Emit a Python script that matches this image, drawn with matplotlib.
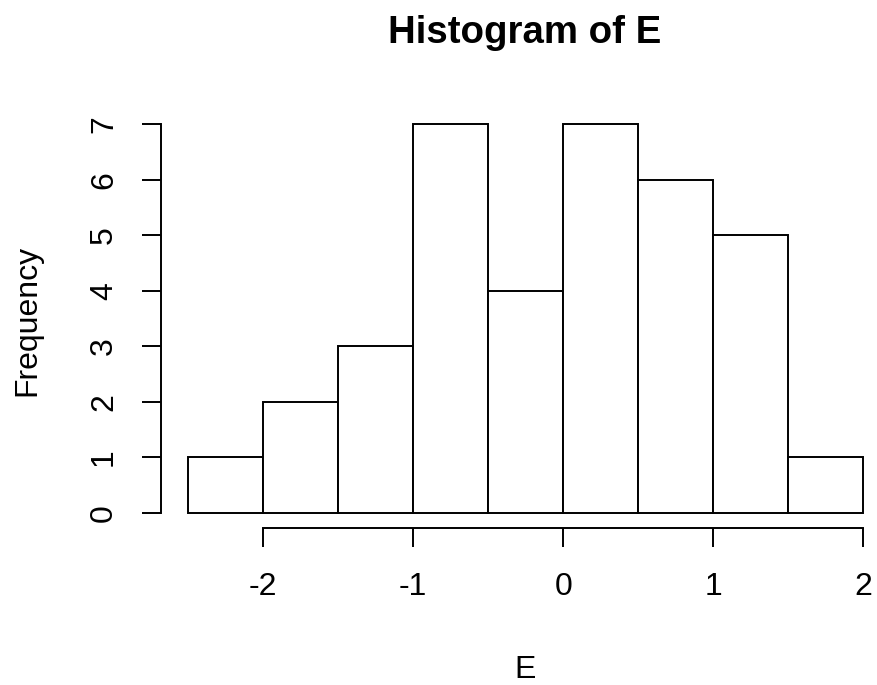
import matplotlib.pyplot as plt

# histogram bins (left edges) and counts
bin_left = [-2.5, -2.0, -1.5, -1.0, -0.5, 0.0, 0.5, 1.0, 1.5]
counts = [1, 2, 3, 7, 4, 7, 6, 5, 1]
bin_width = 0.5
x_ticks = [-2, -1, 0, 1, 2]
y_ticks = [0, 1, 2, 3, 4, 5, 6, 7]

plt.rcParams['font.family'] = ['Liberation Sans', 'DejaVu Sans']

W, H = 878, 685
fig = plt.figure(figsize=(W / 100, H / 100), dpi=100)

# plot region in pixels (R style, 4% padding around the data range)
left_px, right_px = 161.3, 890.3
top_px, bottom_px = 108.8, 528.2
ax = fig.add_axes([left_px / W, 1 - bottom_px / H,
                   (right_px - left_px) / W, (bottom_px - top_px) / H])

ax.bar(bin_left, counts, width=bin_width, align='edge',
       facecolor='white', edgecolor='black', linewidth=1.4)

ax.set_xlim(-2.68, 2.18)
ax.set_ylim(-0.28, 7.28)

for s in ['top', 'right']:
    ax.spines[s].set_visible(False)
ax.spines['left'].set_bounds(0, 7)
ax.spines['bottom'].set_bounds(-2, 2)
for s in ['left', 'bottom']:
    ax.spines[s].set_linewidth(1.4)

ax.set_xticks(x_ticks)
ax.set_xticklabels([str(v) for v in x_ticks])
ax.set_yticks(y_ticks)
ax.set_yticklabels([str(v) for v in y_ticks], rotation=90, va='center')
ax.tick_params(axis='both', direction='out', length=13.5, width=1.4,
               labelsize=23, colors='black')
ax.tick_params(axis='x', pad=18)
ax.tick_params(axis='y', pad=17)

fig.text(525 / W, 1 - 43 / H, "Histogram of E", ha='center', va='baseline',
         fontsize=27.6, fontweight='bold')
fig.text(525 / W, 1 - 678 / H, "E", ha='center', va='baseline', fontsize=23)
fig.text(42 / W, 1 - 320 / H, "Frequency", ha='right', va='center',
         rotation=90, fontsize=23)

fig.savefig("out.png", dpi=100)
